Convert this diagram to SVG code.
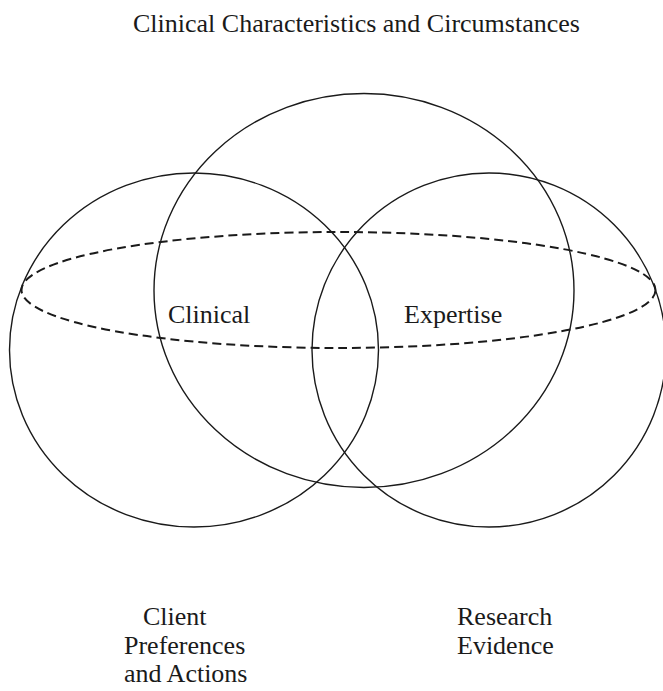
<svg xmlns="http://www.w3.org/2000/svg" width="663" height="691" viewBox="0 0 663 691">
<style>
.c{fill:none;stroke:#1a1a1a;stroke-width:1.4}
.d{fill:none;stroke:#1a1a1a;stroke-width:2;stroke-dasharray:9 5}
text{font-family:"Liberation Serif","Times New Roman",serif;font-size:26px;fill:#1a1a1a}
</style>
<rect width="663" height="691" fill="#fff"/>
<g id="title"><text x="133" y="32">Clinical Characteristics and Circumstances</text></g>
<g id="connectors">
<ellipse id="top-circle" class="c" cx="364" cy="290.5" rx="210" ry="197"/>
<ellipse id="left-circle" class="c" cx="194" cy="350" rx="184.5" ry="177"/>
<ellipse id="right-circle" class="c" cx="489" cy="350" rx="177" ry="177"/>
<ellipse id="expertise-ellipse" class="d" cx="338.5" cy="290" rx="317" ry="58"/>
</g>
<g id="clinical"><text x="168" y="323">Clinical</text></g>
<g id="expertise"><text x="404" y="323">Expertise</text></g>
<g id="client"><text x="143" y="625">Client</text><text x="124" y="654">Preferences</text><text x="124" y="682">and Actions</text></g>
<g id="research"><text x="457" y="625">Research</text><text x="457" y="654">Evidence</text></g>
</svg>
